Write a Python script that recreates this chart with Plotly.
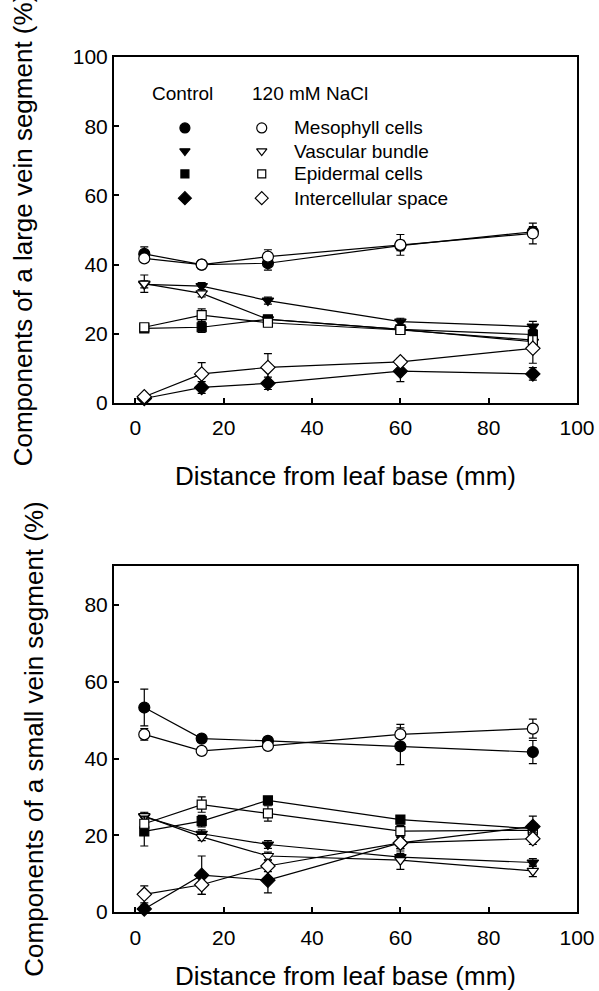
import plotly.graph_objects as go

# ---------------- data ----------------
distance = [2, 15, 30, 60, 90]
components = ["Mesophyll cells", "Vascular bundle", "Epidermal cells", "Intercellular space"]
treatments = ["Control", "120 mM NaCl"]

# Large vein segment (%)
large_meso_ctrl = [43.1, 40.0, 40.4, 45.5, 49.5]
large_meso_nacl = [41.8, 40.0, 42.3, 45.7, 49.0]
large_vasc_ctrl = [34.3, 33.8, 29.6, 23.5, 22.1]
large_vasc_nacl = [34.5, 31.7, 24.2, 21.3, 17.7]
large_epi_ctrl = [21.6, 21.9, 24.2, 21.3, 19.8]
large_epi_nacl = [21.9, 25.4, 23.2, 21.1, 18.2]
large_int_ctrl = [1.3, 4.5, 5.7, 9.2, 8.4]
large_int_nacl = [1.8, 8.4, 10.3, 11.9, 15.8]

large_meso_ctrl_err = [2.0, 1.0, 2.0, 1.5, 1.5]
large_meso_nacl_err = [1.0, 1.2, 2.0, 3.0, 3.0]
large_vasc_ctrl_err = [1.0, 1.0, 1.0, 1.0, 1.5]
large_vasc_nacl_err = [2.5, 1.0, 1.0, 1.0, 1.0]
large_epi_ctrl_err = [1.0, 1.5, 1.0, 1.0, 1.5]
large_epi_nacl_err = [1.0, 1.8, 1.0, 1.0, 2.5]
large_int_ctrl_err = [0.5, 1.7, 1.8, 3.0, 1.8]
large_int_nacl_err = [0.5, 3.3, 4.0, 1.0, 4.3]

# Small vein segment (%)
small_meso_ctrl = [53.3, 45.2, 44.6, 43.2, 41.7]
small_meso_nacl = [46.3, 42.0, 43.3, 46.3, 47.8]
small_vasc_ctrl = [24.8, 20.4, 17.6, 14.3, 12.9]
small_vasc_nacl = [25.0, 19.6, 14.6, 13.5, 10.7]
small_epi_ctrl = [21.0, 23.7, 29.1, 24.1, 21.7]
small_epi_nacl = [23.0, 28.0, 25.7, 21.1, 21.3]
small_int_ctrl = [0.8, 9.6, 8.3, 18.0, 22.3]
small_int_nacl = [4.6, 7.1, 12.0, 18.0, 19.1]

small_meso_ctrl_err = [4.8, 1.0, 1.0, 4.8, 3.0]
small_meso_nacl_err = [1.5, 1.0, 1.0, 2.6, 2.5]
small_vasc_ctrl_err = [1.0, 1.0, 1.0, 1.0, 1.0]
small_vasc_nacl_err = [1.0, 1.0, 1.0, 2.4, 1.5]
small_epi_ctrl_err = [3.8, 1.5, 1.0, 1.0, 1.0]
small_epi_nacl_err = [2.0, 2.0, 2.0, 1.5, 1.0]
small_int_ctrl_err = [1.0, 5.0, 3.3, 1.5, 2.7]
small_int_nacl_err = [2.2, 2.5, 1.5, 1.5, 1.5]

x_ticks = [0, 20, 40, 60, 80, 100]
y_ticks_large = [0, 20, 40, 60, 80, 100]
y_ticks_small = [0, 20, 40, 60, 80]

# ---------------- style ----------------
FONT = "Arial, Liberation Sans, sans-serif"
symbols = ["circle", "triangle-down", "square", "diamond"]
sizes = [11, 10, 9, 11]

fig = go.Figure()

panels = [
    ("x", "y", [
        (large_meso_ctrl, large_meso_ctrl_err, large_meso_nacl, large_meso_nacl_err),
        (large_vasc_ctrl, large_vasc_ctrl_err, large_vasc_nacl, large_vasc_nacl_err),
        (large_epi_ctrl, large_epi_ctrl_err, large_epi_nacl, large_epi_nacl_err),
        (large_int_ctrl, large_int_ctrl_err, large_int_nacl, large_int_nacl_err),
    ]),
    ("x2", "y2", [
        (small_meso_ctrl, small_meso_ctrl_err, small_meso_nacl, small_meso_nacl_err),
        (small_vasc_ctrl, small_vasc_ctrl_err, small_vasc_nacl, small_vasc_nacl_err),
        (small_epi_ctrl, small_epi_ctrl_err, small_epi_nacl, small_epi_nacl_err),
        (small_int_ctrl, small_int_ctrl_err, small_int_nacl, small_int_nacl_err),
    ]),
]

for xa, ya, series in panels:
    for k, (c, ce, n, ne) in enumerate(series):
        for vals, errs, fill, name in [(c, ce, "black", treatments[0]), (n, ne, "white", treatments[1])]:
            fig.add_trace(go.Scatter(
                x=distance, y=vals, xaxis=xa, yaxis=ya,
                mode="lines+markers", name=f"{components[k]} ({name})",
                showlegend=False, cliponaxis=False,
                line=dict(color="black", width=1.2),
                marker=dict(symbol=symbols[k], size=sizes[k], color=fill,
                            line=dict(color="black", width=1.2)),
                error_y=dict(type="data", array=errs, visible=True,
                             color="black", thickness=1.2, width=4),
            ))

# ---------------- legend (drawn in top panel) ----------------
leg_x_ctrl = 11.2
leg_x_nacl = 28.6
leg_rows = [79.5, 72.8, 66.2, 59.2]
for k in range(4):
    for lx, fill in [(leg_x_ctrl, "black"), (leg_x_nacl, "white")]:
        fig.add_trace(go.Scatter(
            x=[lx], y=[leg_rows[k]], xaxis="x", yaxis="y", mode="markers",
            showlegend=False, hoverinfo="skip",
            marker=dict(symbol=symbols[k], size=sizes[k] - 1, color=fill,
                        line=dict(color="black", width=1.2)),
        ))
    fig.add_annotation(x=35.5, y=leg_rows[k], xref="x", yref="y", text=components[k],
                       showarrow=False, xanchor="left", yanchor="middle",
                       font=dict(family=FONT, size=19, color="black"))
fig.add_annotation(x=3.3, y=89.5, xref="x", yref="y", text=treatments[0],
                   showarrow=False, xanchor="left", yanchor="middle",
                   font=dict(family=FONT, size=19, color="black"))
fig.add_annotation(x=25.9, y=89.5, xref="x", yref="y", text=treatments[1],
                   showarrow=False, xanchor="left", yanchor="middle",
                   font=dict(family=FONT, size=19, color="black"))

axis_common = dict(
    showline=True, linecolor="black", linewidth=2, mirror=True,
    ticks="inside", ticklen=5, tickwidth=1.5, tickcolor="black",
    showgrid=False, zeroline=False, automargin=False,
    tickfont=dict(family=FONT, size=21, color="black"),
)
title_font = dict(family=FONT, size=26, color="black")

fig.update_layout(
    width=599, height=991,
    margin=dict(l=114, r=22, t=57, b=79),
    paper_bgcolor="white", plot_bgcolor="white",
    showlegend=False,
    xaxis=dict(domain=[0, 1], anchor="y", range=[-4.86, 100], tickvals=x_ticks,
               ticklabelstandoff=5,
               title=dict(text="Distance from leaf base (mm)", font=title_font, standoff=29),
               **axis_common),
    yaxis=dict(domain=[0.5953, 1], anchor="x", range=[0, 100], tickvals=y_ticks_large,
               title=dict(text="Components of a large vein segment (%)", font=title_font, standoff=33),
               **axis_common),
    xaxis2=dict(domain=[0, 1], anchor="y2", range=[-4.86, 100], tickvals=x_ticks,
                ticklabelstandoff=6,
                title=dict(text="Distance from leaf base (mm)", font=title_font, standoff=21),
                **axis_common),
    yaxis2=dict(domain=[0, 0.4047], anchor="x2", range=[0, 90.2], tickvals=y_ticks_small,
                title=dict(text="Components of a small vein segment (%)", font=title_font, standoff=33),
                **axis_common),
)

fig.write_html(
    "out.html",
    config={"displayModeBar": False},
    post_script="document.body.style.margin='0';document.body.style.overflow='hidden';",
)
